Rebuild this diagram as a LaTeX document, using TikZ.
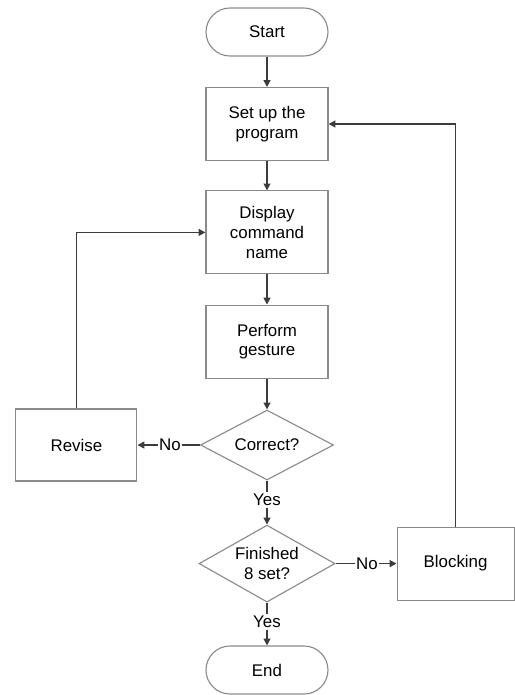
\documentclass[tikz,border=0pt]{standalone}
\usepackage{fontspec}
\setmainfont{Liberation Sans}
\usepackage{tikz}
\usetikzlibrary{shapes.geometric, arrows.meta, positioning}
\usetikzlibrary{calc}
\usepackage{xcolor}

\definecolor{boxgray}{HTML}{8A8A8A}
\definecolor{linegray}{HTML}{3C3C3C}
\tikzset{
	stepbox/.style = {draw=boxgray, line width=0.8pt, minimum width=3.05cm, align=center, inner sep=3pt},
	termbox/.style = {draw=boxgray, line width=0.8pt, rounded corners=0.6cm, minimum width=3.05cm, minimum height=1.2cm},
	decbox/.style = {draw=boxgray, line width=0.8pt, diamond, aspect=1.9, align=center, inner sep=1pt},
	flow/.style = {draw=linegray, line width=1.1pt, -{Triangle[length=1.7mm, width=1.7mm]}},
	flowline/.style = {draw=linegray, line width=1.1pt}
}

\begin{document}
\begin{tikzpicture}[font=\fontsize{12pt}{14pt}\selectfont]
		\useasboundingbox (0cm,0cm) rectangle (12.875cm,-17.375cm);
		\draw (6.675cm,-0.8cm) node[termbox] (start) {Start}
		(6.675cm,-3.1cm) node[stepbox, minimum height=1.825cm] (setup) {Set up the\\program}
		(6.675cm,-5.81cm) node[stepbox, minimum height=2.075cm] (display) {Display\\command\\name}
		(6.675cm,-8.54cm) node[stepbox, minimum height=1.825cm] (perform) {Perform\\gesture}
		(6.675cm,-11.125cm) node[decbox, minimum width=3.325cm, minimum height=1.75cm] (correct) {Correct?}
		(1.91cm,-11.125cm) node[stepbox, minimum width=3.025cm, minimum height=1.8cm] (revise) {Revise}
		(6.675cm,-12.5cm) node[inner sep=1pt] (yes1) {Yes}
		(4.25cm,-11.125cm) node[inner sep=1pt] (no1) {No}
		(6.675cm,-14.09cm) node[decbox, minimum width=3.4cm, minimum height=1.925cm] (finished) {Finished\\8 set?}
		(11.39cm,-14.09cm) node[stepbox, minimum width=2.925cm, minimum height=1.825cm] (blocking) {Blocking}
		(9.175cm,-14.09cm) node[inner sep=1pt] (no2) {No}
		(6.675cm,-15.55cm) node[inner sep=1pt] (yes2) {Yes}
		(6.675cm,-16.75cm) node[termbox] (end) {End};
		
		\draw[flow] (start) -- (setup);
		\draw[flow] (setup) -- (display);
		\draw[flow] (display) -- (perform);
		\draw[flow] (perform) -- (correct);
		\draw[flowline] (correct) -- (no1);
		\draw[flow] (no1) -- (revise);
		\draw[flow] (revise.north) |- (display.west);
		\draw[flowline] (correct) -- (yes1);
		\draw[flow] (yes1) -- (finished);
		\draw[flowline] (finished) -- (no2);
		\draw[flow] (no2) -- (blocking);
		\draw[flow] (blocking.north) |- (setup.east);
		\draw[flowline] (finished) -- (yes2);
		\draw[flow] (yes2) -- (end);
	\end{tikzpicture}
\end{document}
